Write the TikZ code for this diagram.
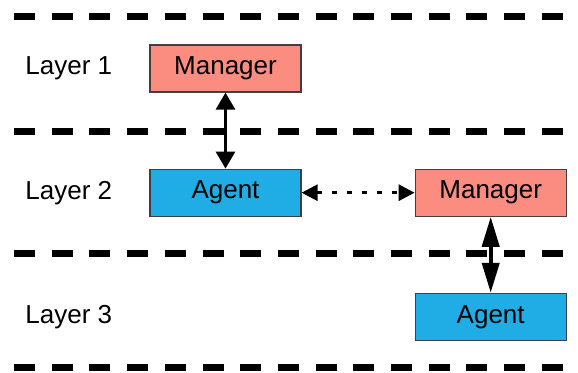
\documentclass[tikz,border=0pt]{standalone}
\usepackage{fontspec}
\setmainfont{Liberation Sans}
\usepackage{tikz}
\usetikzlibrary{positioning}
\usetikzlibrary{arrows.meta}
\definecolor{mgrred}{RGB}{250,140,128}
\definecolor{agtblue}{RGB}{32,173,230}

\begin{document}
\begin{tikzpicture}[x=1pt, y=-1pt,
                    font=\fontsize{26}{30}\selectfont,
                    mgrnode/.style={rectangle, draw=black!75, line width=1.2pt, fill=mgrred, minimum width=151pt, minimum height=47pt, inner sep=0pt},
                    agtnode/.style={rectangle, draw=black!75, line width=1.2pt, fill=agtblue, minimum width=151pt, minimum height=47pt, inner sep=0pt},
                    layernode/.style={inner sep=0pt},
                    layerline/.style={line width=7pt, dash pattern=on 21pt off 16.7pt},
                    arrow_thin/.style={<->, >={Triangle[length=17pt, width=19pt]}, line width=3pt},
                    arrow_thick/.style={<->, >={Triangle[length=30pt, width=17pt]}, line width=4pt},
                    arrow_dotted/.style={<->, >={Triangle[length=16pt, width=16pt]}, line width=3pt, dash pattern=on 5pt off 10pt},
                ]
                \useasboundingbox (0,0) rectangle (578,372);
                %Layer lines
                \foreach \ly in {16,131,253,367}
                    \draw[layerline] (14,\ly) -- (578,\ly);

                %Nodes
                \node[mgrnode]     (mgrA)   at (225.5,68.5)           {Manager};
                \node[agtnode]     (agtA)   [below=76pt of mgrA]      {Agent};
                \node[mgrnode]     (mgrB)   [right=113pt of agtA]     {Manager};
                \node[agtnode]     (agtB)   [below=76pt of mgrB]      {Agent};
                \node[layernode]   (lyrA)   [left=37pt of mgrA]       {Layer 1};
                \node[layernode]   (lyrB)   [left=37pt of agtA]       {Layer 2};
                \node[layernode]   (lyrC)   at (lyrB |- agtB)         {Layer 3};

                %Lines
                \draw[arrow_thin] (mgrA) -- (agtA);
                \draw[arrow_dotted] (agtA) -- (mgrB);
                \draw[arrow_thick] (mgrB) -- (agtB);
\end{tikzpicture}
\end{document}
